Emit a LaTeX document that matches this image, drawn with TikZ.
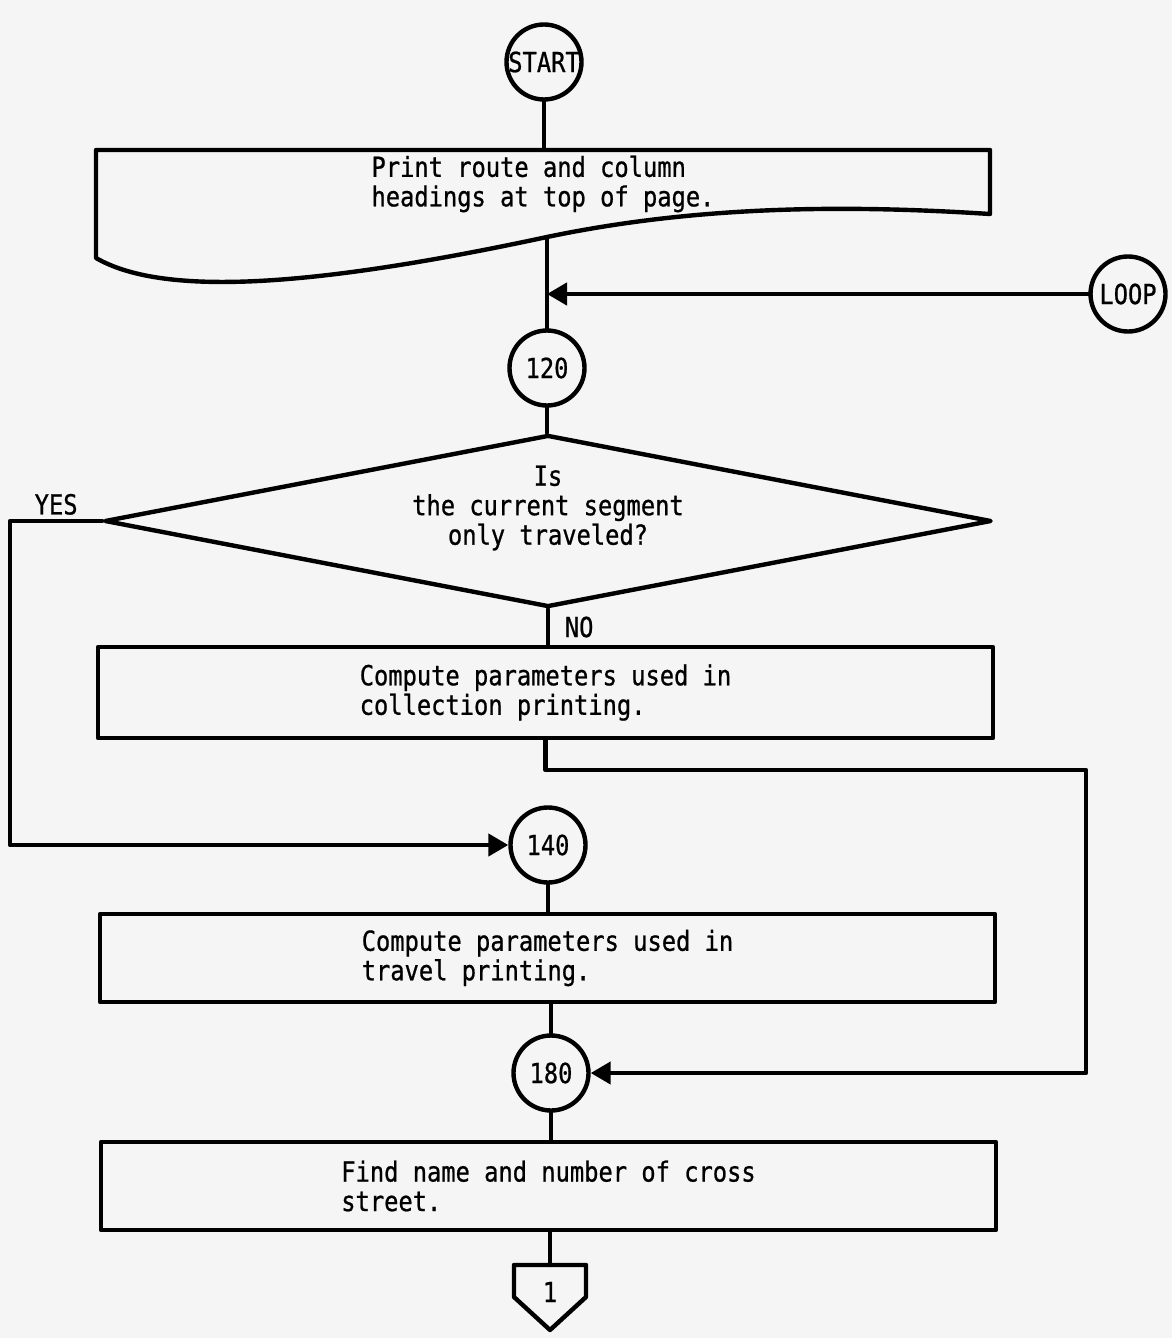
\documentclass[tikz,border=0pt]{standalone}
\usepackage{fontspec}
\setmonofont[FakeStretch=0.86,FakeBold=0.8]{DejaVu Sans Mono}
\usetikzlibrary{arrows.meta,shapes.geometric}

\begin{document}
\begin{tikzpicture}[x=0.5pt, y=-0.5pt, line width=2.2pt, line join=round, line cap=round,
		font=\ttfamily\fontsize{13.8}{14.75}\selectfont, >={Triangle[length=10pt,width=11pt]},
		conn/.style={circle, draw, inner sep=0pt, minimum size=37.5pt},
		procbox/.style={rectangle, draw, align=left, inner sep=0pt, minimum width=447.5pt},
		decision/.style={diamond, draw, inner sep=0pt, aspect=5.2, minimum width=443.5pt, minimum height=86pt}]
			\useasboundingbox[fill=black!4] (0,0) rectangle (1172,1338);
			% top of the chart
			\node[conn] (start) at (544,62) {START};
			\draw (96,150) -- (990,150) -- (990,214) .. controls (850,205) and (700,205) .. (547,237)
				.. controls (300,290) and (160,295) .. (96,258) -- cycle;
			\coordinate (doctop) at (544,150);
			\coordinate (docbot) at (547,237);
			\node[align=left] (doc) at (543,184) {Print route and column\\headings at top of page.};
			\node[conn] (loop) at (1128,294) {LOOP};
			\node[conn] (c120) at (547,368) {120};
			\node[decision] (dec) at (548,521) {};
			\node[align=center] (dectxt) at (548,508) {Is\\the current segment\\only traveled?};
			% processing boxes
			\node[procbox, minimum height=45.5pt] (b2) at (545.5,692.5) {Compute parameters used in\\collection printing.};
			\node[conn] (c140) at (548,845) {140};
			\node[procbox, minimum height=44pt] (b3) at (547.5,958) {Compute parameters used in\\travel printing.};
			\node[conn] (c180) at (551,1073) {180};
			\node[procbox, minimum height=44pt] (b4) at (548.5,1186) {Find name and number of cross\\street.};
			% off-page connector
			\coordinate (offtop) at (550,1265);
			\draw (offtop) ++(-36,0) -- ++(72,0) -- ++(0,32) -- ++(-36,33) -- ++(-36,-33) -- cycle;
			\node (off) at (550,1292) {1};
			% connections
			\draw (start) -- (start |- doctop);
			\draw (docbot) -- (docbot |- c120.north);
			\draw[->] (loop) -- (loop -| c120);
			\draw (c120) -- (c120 |- dec.north);
			\draw[->] (dec.west) -- node[above, inner sep=2pt] (yes) {YES} (10,521) |- (c140.west);
			\draw (dec.south) -- node[right, xshift=4pt] (no) {NO} (dec.south |- b2.north);
			\draw[->] (b2.south) |- (1086,770) |- (c180.east);
			\draw (c140) -- (c140 |- b3.north);
			\draw (c180 |- b3.south) -- (c180);
			\draw (c180) -- (c180 |- b4.north);
			\draw (b4.south -| offtop) -- (offtop);
		\end{tikzpicture}
\end{document}
